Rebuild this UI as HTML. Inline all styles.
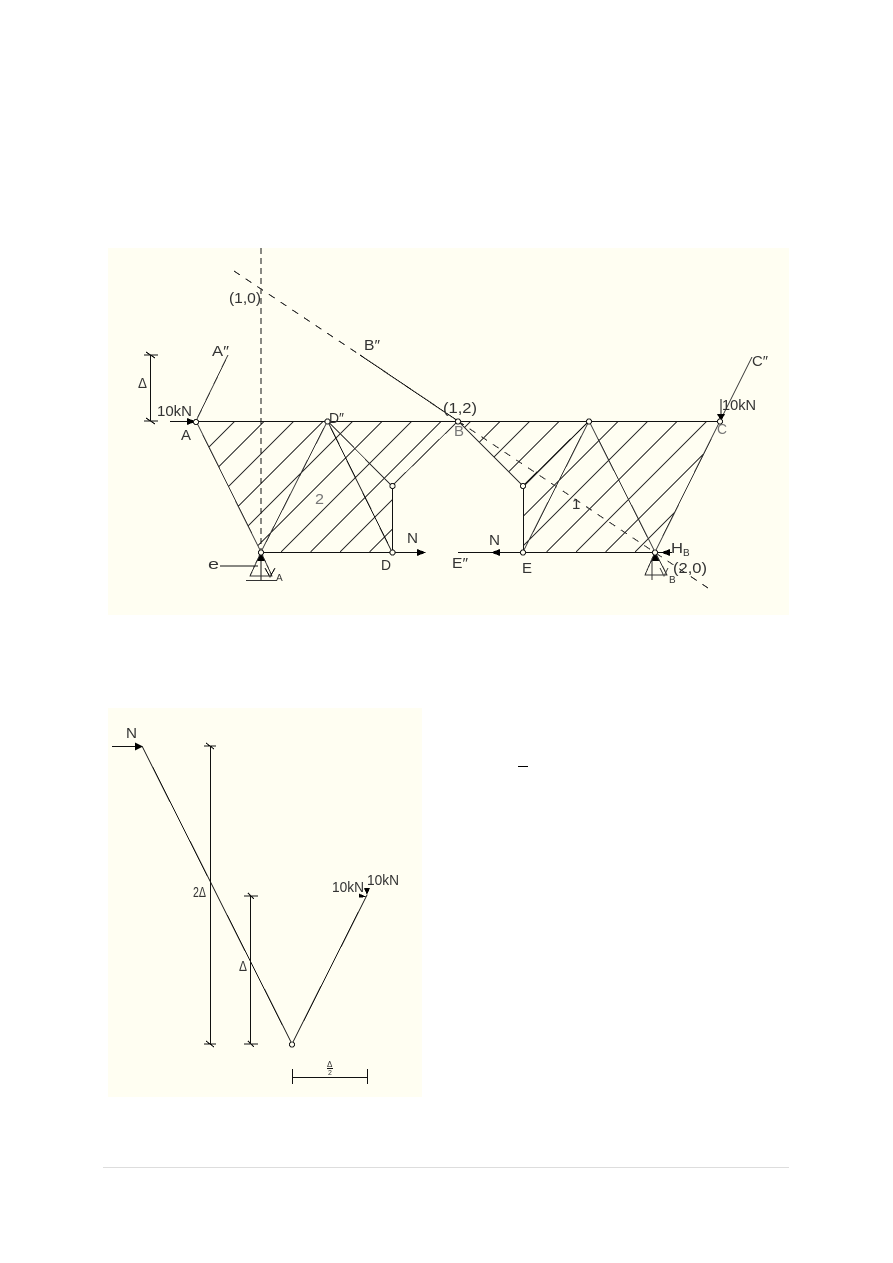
<!DOCTYPE html>
<html><head><meta charset="utf-8">
<style>
html,body{margin:0;padding:0;background:#fff;width:893px;height:1263px;overflow:hidden}
svg{display:block}
text{font-family:"Liberation Sans",sans-serif;font-size:15px;fill:#333}
.s{font-size:10px}
.g{fill:#777}
path,circle{shape-rendering:crispEdges}
.k{stroke:#111;stroke-width:1;fill:none}
.t{stroke:#333;stroke-width:1;fill:none}
.h{stroke:#333;stroke-width:1;fill:none}
.d{stroke:#111;stroke-width:1;fill:none;stroke-dasharray:6 4}
.c{stroke:#222;stroke-width:1;fill:#fffef2}
.a{fill:#000;stroke:none}
</style></head><body>
<svg width="893" height="1263" viewBox="0 0 893 1263" xmlns="http://www.w3.org/2000/svg">
<defs><clipPath id="hc"><path d="M196 421H458L392 486V552H261ZM458 421H720L655 552H523V486Z"/></clipPath></defs>
<rect x="108" y="248" width="681" height="367" fill="#fffef2"/>
<rect x="108" y="708" width="314" height="389" fill="#fffef2"/>
<rect x="103" y="1167" width="686" height="1" fill="#ddd"/>

<g class="h" clip-path="url(#hc)">
<path d="M235 421L104 552M264.5 421L133.5 552M294 421L163 552M323.5 421L192.5 552M353 421L222 552M382.5 421L251.5 552M412 421L281 552M441.5 421L310.5 552M471 421L340 552M500.5 421L369.5 552M530 421L399 552M559.5 421L428.5 552M589 421L458 552M618.5 421L487.5 552M648 421L517 552M677.5 421L546.5 552M707 421L576 552M736.5 421L605.5 552M766 421L635 552"/>
</g>

<!-- chords -->
<path class="k" d="M170 421.5H720M261 552.5H425M458 552.5H672"/>
<path class="k" d="M392.5 486V552M523.5 486V552"/>
<!-- truss members -->
<path class="t" d="M196 421L261 552L327.5 421L392 552M327.5 421L392 486L458 421L523 486L589 421L655 552M523 552L589 421M655 552L720 421"/>
<path class="k" d="M327.5 421L392 552M523 486L589 421"/>
<!-- extensions -->
<path class="t" d="M196 421L228 355M720 421L752 357"/>
<path class="d" d="M261 248V552"/>
<path class="k" d="M261 552V580"/>
<path class="t" style="stroke-dasharray:7 7" d="M234 271L360 355"/>
<path class="k" d="M360 355L458 421"/>
<path class="t" style="stroke-dasharray:7 7" d="M458 421L708 588"/>
<!-- dim -->
<path class="k" d="M150.5 355V421M144 355H158M144 421H158M146 352L155 358M146 418L155 424"/>
<!-- arrowheads -->
<path class="a" d="M187 418V425L196 421.5Z"/>
<path class="a" d="M417 549V556L426 552.5Z"/>
<path class="a" d="M500 549V556L491 552.5Z"/>
<path class="a" d="M717 414H725L721 421Z"/>
<path class="k" d="M721 399V415"/>
<path class="a" d="M261 552L257 561H265Z"/>
<path class="a" d="M655 552L651 561H659Z"/>
<path class="a" d="M670 549V556L661 552.5Z"/>
<!-- supports -->
<path class="t" d="M261 552L250 576H272L261 552M246 580.5H277"/>
<path class="k" d="M220 566H258M265 568L270 577L275 568"/>
<path class="t" d="M655 552L645 575H667L655 552M652 560V580M660 568L664 576L668 568"/>
<!-- circles -->
<g class="c">
<circle cx="196" cy="422" r="2.6"/><circle cx="327.5" cy="421.5" r="2.6"/><circle cx="458" cy="421.5" r="2.6"/><circle cx="589" cy="421.5" r="2.6"/><circle cx="720" cy="421.5" r="2.6"/>
<circle cx="392.5" cy="486" r="2.6"/><circle cx="523" cy="486" r="2.6"/><circle cx="392.5" cy="552.5" r="2.6"/><circle cx="523" cy="552.5" r="2.6"/><circle cx="261" cy="552.5" r="2.6"/><circle cx="655" cy="552.5" r="2.6"/>
</g>
<!-- labels top -->
<text x="229" y="303" textLength="32" lengthAdjust="spacingAndGlyphs">(1,0)</text>
<text x="364" y="350" textLength="16" lengthAdjust="spacingAndGlyphs">B″</text>
<text x="212" y="356" textLength="17" lengthAdjust="spacingAndGlyphs">A″</text>
<text x="138" y="388" textLength="9" lengthAdjust="spacingAndGlyphs">Δ</text>
<text x="157" y="416" textLength="35" lengthAdjust="spacingAndGlyphs">10kN</text>
<text x="181" y="440" textLength="10" lengthAdjust="spacingAndGlyphs">A</text>
<text x="329" y="423" textLength="15" lengthAdjust="spacingAndGlyphs">D″</text>
<text x="443" y="413" textLength="34" lengthAdjust="spacingAndGlyphs">(1,2)</text>
<text x="454" y="436" class="g" textLength="10" lengthAdjust="spacingAndGlyphs">B</text>
<text x="315" y="504" class="g" textLength="9" lengthAdjust="spacingAndGlyphs">2</text>
<text x="572" y="509">1</text>
<text x="407" y="543" textLength="11" lengthAdjust="spacingAndGlyphs">N</text>
<text x="381" y="570" textLength="10" lengthAdjust="spacingAndGlyphs">D</text>
<text x="452" y="568" textLength="16" lengthAdjust="spacingAndGlyphs">E″</text>
<text x="489" y="545" textLength="11" lengthAdjust="spacingAndGlyphs">N</text>
<text x="522" y="573" textLength="10" lengthAdjust="spacingAndGlyphs">E</text>
<text x="208" y="569" textLength="11" lengthAdjust="spacingAndGlyphs">e</text>
<text x="276" y="581" class="s">A</text>
<text x="671" y="553" textLength="12" lengthAdjust="spacingAndGlyphs">H</text>
<text x="683" y="556" class="s">B</text>
<text x="673" y="573" textLength="34" lengthAdjust="spacingAndGlyphs">(2,0)</text>
<text x="669" y="583" class="s">B</text>
<text x="752" y="366" textLength="16" lengthAdjust="spacingAndGlyphs">C″</text>
<text x="722" y="410" textLength="34" lengthAdjust="spacingAndGlyphs">10kN</text>
<text x="717" y="434" class="g" textLength="10" lengthAdjust="spacingAndGlyphs">C</text>

<!-- bottom panel -->
<path class="k" d="M112 746.5H142"/>
<path class="a" d="M135 742.5V750.5L143 746.5Z"/>
<path class="k" d="M142 746L292 1044L367 895"/>
<path class="k" d="M210.5 746V1044M204 746H216M204 1044H216M206 743L214 749M206 1041L214 1047"/>
<path class="k" d="M250.5 896V1044M244 896H258M244 1044H258M248 893L254 899M248 1041L254 1047"/>
<path class="k" d="M292.5 1077.5H367.5M292.5 1069V1084M367.5 1069V1084"/>
<circle class="c" cx="292" cy="1044.5" r="2.6"/>
<path class="a" d="M359 893.5V897.5L367 897L359 893.5Z"/>
<path class="a" d="M364 888H370L367 895Z"/>
<text x="126" y="738" textLength="11" lengthAdjust="spacingAndGlyphs">N</text>
<text x="193" y="897" textLength="13" lengthAdjust="spacingAndGlyphs">2Δ</text>
<text x="239" y="971" textLength="8" lengthAdjust="spacingAndGlyphs">Δ</text>
<text x="332" y="892" textLength="32" lengthAdjust="spacingAndGlyphs">10kN</text>
<text x="367" y="885" textLength="32" lengthAdjust="spacingAndGlyphs">10kN</text>
<text x="327" y="1067" class="s" style="font-size:8px">Δ</text>
<path class="k" d="M327 1068.5H333"/>
<text x="328" y="1075" class="s" style="font-size:7px">2</text>
<rect x="518" y="766" width="10" height="1" fill="#000"/>
</svg>
</body></html>
